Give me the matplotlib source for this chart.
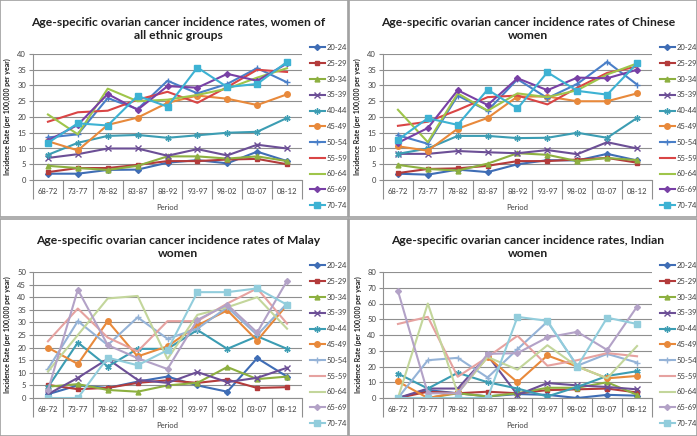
import numpy as np
import matplotlib
matplotlib.use('Agg')
import matplotlib.pyplot as plt
from matplotlib.patches import Rectangle

plt.rcParams['font.family'] = ['Lato', 'DejaVu Sans']

periods = ['68-72', '73-77', '78-82', '83-87', '88-92', '93-97', '98-02', '03-07', '08-12']
groups = ['20-24', '25-29', '30-34', '35-39', '40-44', '45-49', '50-54', '55-59', '60-64', '65-69', '70-74']

# all ethnic groups
all_eth = [
    [2.0, 2.0, 3.2, 3.3, 5.5, 6.3, 5.3, 9.0, 6.0],
    [2.5, 3.8, 3.8, 4.8, 6.0, 6.0, 6.5, 6.7, 5.0],
    [4.5, 3.8, 3.2, 4.5, 7.5, 7.5, 6.8, 7.5, 6.0],
    [7.0, 8.2, 10.0, 10.0, 7.7, 9.8, 7.8, 11.2, 10.0],
    [8.0, 11.8, 14.0, 14.3, 13.4, 14.2, 15.0, 15.3, 19.7],
    [12.3, 9.4, 17.5, 19.8, 24.5, 26.8, 25.8, 23.8, 27.2],
    [13.5, 14.5, 26.0, 22.5, 31.5, 27.5, 30.5, 35.5, 31.0],
    [18.5, 21.5, 22.0, 25.5, 28.0, 24.5, 29.5, 35.0, 34.3],
    [20.8, 14.5, 29.0, 25.0, 25.5, 27.0, 29.0, 32.5, 35.5],
    [12.5, 17.5, 27.3, 22.3, 29.8, 29.3, 33.7, 31.5, 37.0],
    [11.8, 18.0, 17.3, 26.7, 23.3, 35.7, 29.5, 30.5, 37.5],
]

chinese = [
    [2.0, 1.7, 3.3, 2.5, 5.0, 6.3, 6.2, 8.3, 6.2],
    [2.2, 3.5, 3.7, 4.5, 6.0, 6.0, 6.5, 7.0, 5.5],
    [4.8, 3.5, 3.0, 5.2, 8.5, 8.0, 6.0, 7.0, 6.3],
    [8.3, 8.3, 9.2, 8.8, 8.5, 9.5, 8.2, 12.0, 10.0],
    [8.3, 10.0, 14.0, 14.0, 13.3, 13.4, 15.0, 13.4, 19.7],
    [10.7, 9.3, 16.3, 19.7, 26.5, 26.5, 25.0, 25.0, 27.5],
    [14.2, 11.5, 26.8, 22.0, 32.0, 26.0, 30.5, 37.5, 30.3],
    [17.2, 18.5, 22.2, 26.3, 26.8, 24.0, 29.3, 34.0, 36.0],
    [22.3, 12.0, 27.5, 22.0, 27.5, 26.3, 28.5, 33.5, 37.0],
    [11.8, 16.5, 28.5, 23.8, 32.3, 28.5, 32.5, 32.3, 35.0],
    [12.8, 19.6, 17.5, 28.7, 22.7, 34.2, 28.3, 27.1, 37.0],
]

malay = [
    [1.5, 5.0, 4.0, 6.5, 8.5, 5.0, 2.5, 15.8, 8.5],
    [5.2, 3.5, 4.0, 6.0, 7.0, 6.0, 7.3, 4.0, 4.3],
    [4.5, 5.5, 3.2, 2.5, 5.0, 6.0, 12.3, 7.5, 8.5],
    [1.5, 8.0, 15.5, 7.2, 6.0, 10.3, 6.3, 8.0, 12.0],
    [4.3, 22.0, 12.5, 19.5, 19.5, 27.0, 19.5, 24.5, 19.5],
    [20.0, 13.5, 30.5, 16.5, 20.5, 28.8, 34.8, 22.8, 37.0],
    [11.5, 30.5, 21.0, 32.0, 23.5, 27.5, 36.0, 25.0, 37.5],
    [22.5, 35.5, 24.0, 18.5, 30.5, 30.5, 37.5, 43.5, 29.5],
    [10.5, 25.0, 39.5, 40.5, 15.5, 33.0, 36.0, 40.0, 27.5],
    [3.0, 43.0, 21.0, 15.8, 11.5, 31.0, 37.0, 26.0, 46.5],
    [0.0, 0.0, 16.0, 13.0, 19.0, 42.0, 42.0, 43.5, 37.0],
]

indian = [
    [0.0, 5.0, 3.0, 1.0, 2.5, 2.0, 0.0, 2.0, 1.5],
    [0.0, 4.0, 3.0, 4.0, 3.0, 5.0, 5.5, 6.0, 3.5],
    [0.0, 0.0, 3.0, 1.0, 3.0, 6.5, 6.5, 10.0, 2.0],
    [0.0, 6.0, 6.0, 27.0, 2.0, 9.5, 8.0, 7.0, 5.5],
    [15.5, 6.0, 16.0, 10.0, 6.0, 1.0, 7.0, 14.0, 17.0],
    [10.5, 0.0, 3.5, 26.0, 10.0, 27.0, 20.0, 12.5, 14.0],
    [0.0, 24.0, 25.5, 13.0, 31.0, 48.5, 20.5, 28.0, 22.5],
    [47.0, 51.5, 13.5, 26.0, 39.5, 20.5, 24.0, 28.5, 26.5],
    [0.0, 60.0, 3.0, 26.0, 18.0, 33.5, 20.0, 12.5, 33.0],
    [68.0, 3.0, 3.0, 28.0, 28.5, 38.5, 42.0, 30.5, 58.0],
    [0.0, 0.0, 0.0, 0.0, 51.5, 49.0, 20.0, 51.0, 47.0],
]

titles = ['Age-specific ovarian cancer incidence rates, women of\nall ethnic groups',
          'Age-specific ovarian cancer incidence rates of Chinese\nwomen',
          'Age-specific ovarian cancer incidence rates of Malay\nwomen',
          'Age-specific ovarian cancer incidence rates, Indian\nwomen']

base_cols = ['#3F6DB5', '#B33B3B', '#8DB040', '#6C4F96', '#3C9DB3', '#E8893B']
dark_cols = base_cols + ['#4A7FC8', '#D94545', '#9FC54A', '#7840A5', '#3DB2D3']
light_cols = base_cols + ['#95B3D7', '#E6A2A0', '#C3D69B', '#B3A2C7', '#92CDDC']
markers = ['D', 's', '^', 'x', (6, 2, 0), 'o', '+', None, None, 'D', 's']
msizes = [3, 3.5, 3.5, 4, 4.5, 4, 4, 0, 0, 3, 5]

W, H = 697, 436
fig = plt.figure(figsize=(6.97, 4.36), dpi=100)

# panel frames
panels = [(0, 0, 348, 217), (349, 0, 348, 217), (0, 219, 348, 217), (349, 219, 348, 217)]
for (px, py, pw, ph) in panels:
    fig.patches.append(Rectangle((px / W, 1 - (py + ph) / H), pw / W, ph / H,
                                 transform=fig.transFigure, fill=False,
                                 edgecolor='#a0a0a0', lw=1.2))

datasets = [all_eth, chinese, malay, indian]
ymaxes = [40, 40, 50, 80]
ysteps = [5, 5, 5, 10]
x = np.arange(len(periods))

for k, data in enumerate(datasets):
    ox = 0 if k % 2 == 0 else 350
    oy = 0 if k < 2 else 218
    left, right, top, bot = ox + 33, ox + 302, oy + 54, oy + 180
    ax = fig.add_axes([left / W, 1 - bot / H, (right - left) / W, (bot - top) / H])
    cols = dark_cols if k < 2 else light_cols
    for i, g in enumerate(groups):
        ax.plot(x, data[i], color=cols[i], lw=1.5, marker=markers[i],
                ms=msizes[i], mew=1.0, label=g)
    ax.set_xlim(-0.5, len(periods) - 0.5)
    ax.set_ylim(0, ymaxes[k])
    ax.set_yticks(np.arange(0, ymaxes[k] + 1, ysteps[k]))
    ax.yaxis.grid(True, color='#8f8f8f', lw=0.8)
    ax.set_axisbelow(True)
    for s in ['top', 'right']:
        ax.spines[s].set_visible(False)
    for s in ['left', 'bottom']:
        ax.spines[s].set_color('#8f8f8f')
    ax.tick_params(axis='y', labelsize=5.5, colors='#8f8f8f', labelcolor='#404040',
                   length=3, width=0.8, pad=2)
    ax.set_xticks(np.arange(len(periods) + 1) - 0.5)
    ax.set_xticklabels([])
    ax.tick_params(axis='x', which='major', length=14, color='#8f8f8f', width=0.8)
    ax.set_xticks(x, minor=True)
    ax.set_xticklabels(periods, minor=True)
    ax.tick_params(axis='x', which='minor', length=0, labelsize=5.5,
                   labelcolor='#404040', pad=6)
    fig.text((left + right) / 2 / W, 1 - (oy + 207) / H, 'Period', ha='center',
             va='center', fontsize=5.5, color='#404040')
    ax.set_ylabel('Incidence Rate (per 100,000 per year)', fontsize=5,
                  fontweight='bold', color='#202020', labelpad=4)
    fig.text((ox + 178) / W, 1 - (oy + 29) / H, titles[k], ha='center', va='center',
             fontsize=8.7, fontweight='bold', color='#202020', linespacing=1.3)
    ax.legend(loc='upper left', bbox_to_anchor=((ox + 307) / W, 1 - (oy + 41) / H),
              bbox_transform=fig.transFigure, frameon=False, fontsize=5.5,
              labelspacing=1.15, handlelength=1.9, handletextpad=0.3,
              borderaxespad=0, labelcolor='#404040')

fig.savefig('out.png', dpi=100)
